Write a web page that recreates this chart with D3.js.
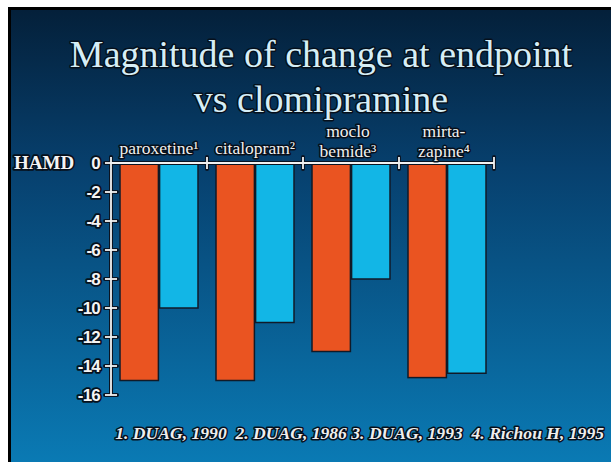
<!DOCTYPE html>
<html><head><meta charset="utf-8">
<script src="https://cdn.jsdelivr.net/npm/d3@7/dist/d3.min.js"></script>
<style>body{margin:0;background:#fff;} svg{display:block;}</style>
</head><body>
<svg id="chart" width="611" height="462"></svg>
<script>
const titleLines = ["Magnitude of change at endpoint", "vs clomipramine"];
const categories = ["paroxetine", "citalopram", "moclobemide", "mirtazapine"];
const categoryLabels = [["paroxetine¹"], ["citalopram²"], ["moclo", "bemide³"], ["mirta-", "zapine⁴"]];
const seriesNames = ["clomipramine", "comparator"];
const clomipramineValues = [-15, -15, -13, -14.8];
const comparatorValues = [-10, -11, -8, -14.5];
const yTicks = [0, -2, -4, -6, -8, -10, -12, -14, -16];
const yAxisLabel = "HAMD";
const footnote = "1. DUAG, 1990  2. DUAG, 1986 3. DUAG, 1993  4. Richou H, 1995";

const svg = d3.select("#chart");
const defs = svg.append("defs");
const grad = defs.append("linearGradient").attr("id","bg").attr("x1",0).attr("y1",0).attr("x2",0).attr("y2",1);
grad.append("stop").attr("offset","0%").attr("stop-color","#04203a");
grad.append("stop").attr("offset","35%").attr("stop-color","#07406e");
grad.append("stop").attr("offset","100%").attr("stop-color","#0a7ab4");

// slide background with black frame
svg.append("rect").attr("x",8).attr("y",7).attr("width",603).attr("height",455).attr("fill","#000");
svg.append("rect").attr("x",11).attr("y",10).attr("width",600).attr("height",452).attr("fill","url(#bg)");

const outline = (sel, w=3) => sel.attr("stroke","#06101c").attr("stroke-width",w).attr("stroke-linejoin","round").attr("paint-order","stroke");

// title
svg.append("g").selectAll("text").data(titleLines).join("text")
  .attr("x",321).attr("y",(d,i)=>67+i*45)
  .attr("text-anchor","middle")
  .attr("font-family","'Liberation Serif', 'Times New Roman', serif")
  .attr("font-size",38)
  .attr("fill","#d6eef6")
  .text(d=>d)
  .call(outline);

const x = d3.scaleBand().domain(categories).range([111, 495]).padding(0);
const xs = d3.scaleBand().domain(seriesNames).range([9, 87]).paddingInner(0.03);
const y = d3.scaleLinear().domain([0, -16]).range([163, 395]);
const colors = d3.scaleOrdinal().domain(seriesNames).range(["#ea5421", "#12b6e6"]);

const rows = categories.map((c,i)=>({cat:c, vals:[
  {s:seriesNames[0], v:clomipramineValues[i]},
  {s:seriesNames[1], v:comparatorValues[i]}]}));

// bars
const g = svg.append("g");
g.selectAll("g").data(rows).join("g")
  .attr("transform", d=>`translate(${x(d.cat)},0)`)
  .selectAll("rect").data(d=>d.vals).join("rect")
  .attr("x", d=>xs(d.s))
  .attr("y", y(0))
  .attr("width", xs.bandwidth())
  .attr("height", d=>y(d.v)-y(0))
  .attr("fill", d=>colors(d.s))
  .attr("stroke","#111a28").attr("stroke-width",1.5);

// axes lines (white with dark outline)
const axisG = svg.append("g");
function axLine(x1,y1,x2,y2){
  axisG.append("line").attr("x1",x1).attr("y1",y1).attr("x2",x2).attr("y2",y2)
    .attr("stroke","#0a1422").attr("stroke-width",4).attr("stroke-linecap","round");
}
function axLineW(x1,y1,x2,y2){
  axisG.append("line").attr("x1",x1).attr("y1",y1).attr("x2",x2).attr("y2",y2)
    .attr("stroke","#f2f2f2").attr("stroke-width",1.8);
}
const axX = x.range()[0];
const segs = [];
segs.push([axX, y(0)-6, axX, y(-16)]);
yTicks.forEach(t=>segs.push([axX-6, y(t), axX+6, y(t)]));
segs.push([axX, y(0), x.range()[1]-1, y(0)]);
categories.forEach((c,i)=>{const bx=x(c)+x.bandwidth()-(i===categories.length-1?1:0); segs.push([bx, y(0)-6, bx, y(0)+6]);});
segs.forEach(s=>axLine(...s));
segs.forEach(s=>axLineW(...s));

// y tick labels
svg.append("g").selectAll("text").data(yTicks).join("text")
  .attr("x", 100).attr("y", d=>y(d)).attr("dy","0.36em")
  .attr("text-anchor","end")
  .attr("font-family","'Liberation Sans', Arial, sans-serif")
  .attr("font-weight","bold").attr("font-size",17)
  .attr("letter-spacing",-0.8)
  .attr("fill","#f4f4f4")
  .text(d=>d)
  .call(outline, 3.5);

svg.append("text").attr("x",14).attr("y",y(0)+6)
  .attr("font-family","'Liberation Serif', 'Times New Roman', serif")
  .attr("font-weight","bold").attr("font-size",19)
  .attr("fill","#f4f4f4").text(yAxisLabel).call(outline, 3.5);

// category labels
svg.append("g").selectAll("text").data(rows.map((r,i)=>({cat:r.cat, lines:categoryLabels[i]}))).join("text")
  .attr("text-anchor","middle")
  .attr("font-family","'Liberation Serif', 'Times New Roman', serif")
  .attr("font-size",17.5)
  .attr("fill","#f0f0f0")
  .each(function(d){
    const t = d3.select(this);
    const n = d.lines.length;
    d.lines.forEach((ln,i)=>{
      t.append("tspan").attr("x", x(d.cat)+x.bandwidth()/2 + (n>1?-3:0))
        .attr("y", n===1 ? 154 : 137 + i*20).text(ln);
    });
  })
  .call(outline);

// footnote
svg.append("text").attr("x",604).attr("y",439).attr("text-anchor","end")
  .attr("font-family","'Liberation Serif', 'Times New Roman', serif")
  .attr("font-weight","bold").attr("font-style","italic").attr("font-size",17.6)
  .attr("fill","#eeeeee").attr("xml:space","preserve").style("white-space","pre")
  .text(footnote).call(outline);
</script>
</body></html>
